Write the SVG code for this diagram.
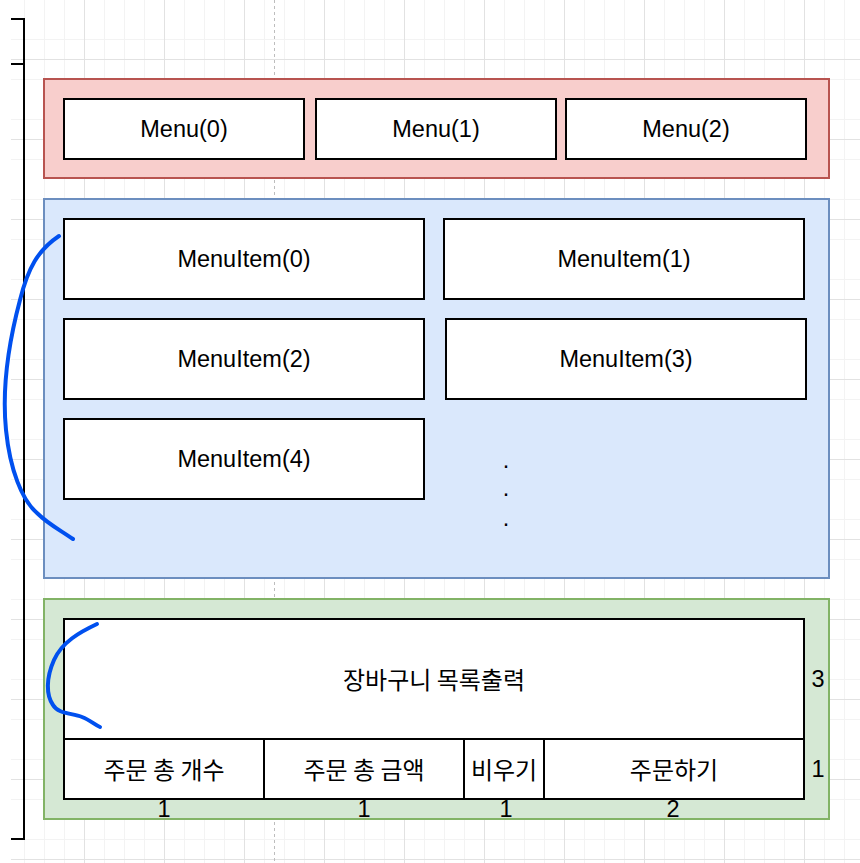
<svg xmlns="http://www.w3.org/2000/svg" width="860" height="863" viewBox="0 0 860 863">
<style>
  .box { fill: #ffffff; stroke: #000000; stroke-width: 2; }
  .lbl { font-family: "Liberation Sans", Arial, "Noto Sans CJK KR", sans-serif; font-size: 23.5px; fill: #000000; text-anchor: middle; dominant-baseline: central; }
  .ko { font-family: "Noto Sans CJK KR", "Liberation Sans", sans-serif; font-size: 24px; fill: #000000; text-anchor: middle; dominant-baseline: central; }
  .bracket { fill: none; stroke: #000000; stroke-width: 2; }
  .hand { fill: none; stroke: #0050ef; stroke-width: 4; stroke-linecap: round; stroke-linejoin: round; }
</style>
<defs>
  <pattern id="grid" patternUnits="userSpaceOnUse" x="4" y="19" width="80" height="80">
    <rect x="0" y="0" width="80" height="80" fill="#ffffff"/>
    <g fill="#f3f3f3">
      <rect x="20" y="0" width="1" height="80"/>
      <rect x="40" y="0" width="1" height="80"/>
      <rect x="60" y="0" width="1" height="80"/>
      <rect x="0" y="20" width="80" height="1"/>
      <rect x="0" y="40" width="80" height="1"/>
      <rect x="0" y="60" width="80" height="1"/>
    </g>
    <rect x="0" y="0" width="1" height="80" fill="#e2e2e2"/>
  </pattern>
  <pattern id="grid2" patternUnits="userSpaceOnUse" x="4" y="59" width="80" height="80">
    <rect x="0" y="0" width="80" height="1" fill="#e2e2e2"/>
  </pattern>
</defs>

<rect x="0" y="0" width="860" height="863" fill="#ffffff"/>
<rect x="11" y="0" width="849" height="863" fill="url(#grid)"/>
<rect x="11" y="0" width="849" height="863" fill="url(#grid2)"/>
<line x1="274.5" y1="0" x2="274.5" y2="863" stroke="#bdbdbd" stroke-width="1" stroke-dasharray="3 3"/>

<g id="bracket">
  <path class="bracket" d="M11,19 H24 V839 H11 M11,64 H24"/>
</g>

<g id="menu-container">
  <rect x="44" y="79" width="785" height="99" fill="#f8cecc" stroke="#b85450" stroke-width="2"/>
</g>
<g id="menu0"><rect class="box" x="64" y="99" width="240" height="60"/><text class="lbl" x="184" y="129">Menu(0)</text></g>
<g id="menu1"><rect class="box" x="316" y="99" width="240" height="60"/><text class="lbl" x="436" y="129">Menu(1)</text></g>
<g id="menu2"><rect class="box" x="566" y="99" width="240" height="60"/><text class="lbl" x="686" y="129">Menu(2)</text></g>

<g id="menuitem-container">
  <rect x="44" y="199" width="785" height="379" fill="#dae8fc" stroke="#6c8ebf" stroke-width="2"/>
</g>
<g id="menuitem0"><rect class="box" x="64" y="219" width="360" height="80"/><text class="lbl" x="244" y="259">MenuItem(0)</text></g>
<g id="menuitem1"><rect class="box" x="444" y="219" width="360" height="80"/><text class="lbl" x="624" y="259">MenuItem(1)</text></g>
<g id="menuitem2"><rect class="box" x="64" y="319" width="360" height="80"/><text class="lbl" x="244" y="359">MenuItem(2)</text></g>
<g id="menuitem3"><rect class="box" x="446" y="319" width="360" height="80"/><text class="lbl" x="626" y="359">MenuItem(3)</text></g>
<g id="menuitem4"><rect class="box" x="64" y="419" width="360" height="80"/><text class="lbl" x="244" y="459">MenuItem(4)</text></g>
<g id="dots">
  <text class="lbl" x="506" y="460">.</text>
  <text class="lbl" x="506" y="488">.</text>
  <text class="lbl" x="506" y="518">.</text>
</g>

<g id="cart-container">
  <rect x="44" y="599" width="785" height="220" fill="#d5e8d4" stroke="#82b366" stroke-width="2"/>
</g>
<g id="cart-list"><rect class="box" x="64" y="619" width="740" height="120"/><text class="ko" x="434" y="678">장바구니 목록출력</text></g>
<g id="total-count"><rect class="box" x="64" y="739" width="200" height="60"/><text class="ko" x="164" y="768">주문 총 개수</text></g>
<g id="total-price"><rect class="box" x="264" y="739" width="200" height="60"/><text class="ko" x="364" y="768">주문 총 금액</text></g>
<g id="clear"><rect class="box" x="464" y="739" width="80" height="60"/><text class="ko" x="504" y="768">비우기</text></g>
<g id="order"><rect class="box" x="544" y="739" width="260" height="60"/><text class="ko" x="674" y="768">주문하기</text></g>

<g id="numbers">
  <text class="lbl" x="818" y="679">3</text>
  <text class="lbl" x="818" y="769">1</text>
  <text class="lbl" x="164" y="809">1</text>
  <text class="lbl" x="364" y="809">1</text>
  <text class="lbl" x="506" y="809">1</text>
  <text class="lbl" x="673" y="809">2</text>
</g>

<g id="annotations">
  <path class="hand" d="M59,236 C38,250 28,268 20,300 C8,345 2,390 6,430 C10,470 22,500 37,513 C48,524 60,530 73,539"/>
  <path class="hand" d="M97,624 C80,632 62,642 54,660 C46,678 46,695 53,705 C58,714 72,713 82,717 C90,720 95,725 100,727"/>
</g>
</svg>
